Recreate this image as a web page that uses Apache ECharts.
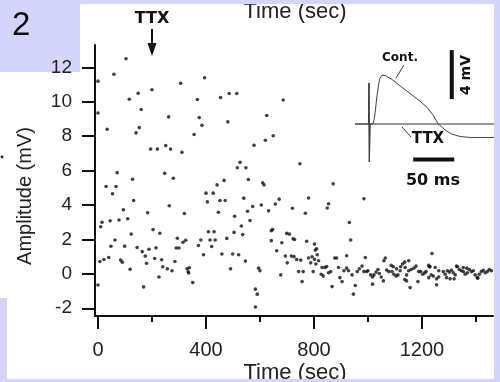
<!DOCTYPE html>
<html>
<head>
<meta charset="utf-8">
<script src="https://cdn.jsdelivr.net/npm/echarts@6/dist/echarts.min.js"></script>
<style>html,body{margin:0;padding:0;background:#d5d5fb;}#c{width:500px;height:382px;}</style>
</head>
<body>
<div id="c"></div>
<script>
// ---- data ----
const scatterTime = [
0,59,104,116,149,200,306,395,368,454,486,514,0,160,262,375,385,481,34,153,686,625,141,356,195,220,251,269,311,578,620,649,748,
71,30,67,54,128,247,279,132,94,264,184,320,15,10,45,78,110,123,204,229,63,48,99,145,164,175,189,215,180,210,236,240,257,274,226,169,285,290,300,294,315,325,7,22,40,84,90,119,330,334,338,336,351,372,381,391,409,430,415,434,421,400,427,405,452,471,446,477,459,491,499,521,504,536,531,506,554,441,467,540,516,526,548,557,546,563,0,
610,615,573,605,632,657,671,720,768,780,849,854,871,985,642,647,642,681,699,709,723,728,773,802,810,805,931,936,595,600,583,590,583,662,694,677,701,716,726,736,751,743,760,756,780,788,802,807,812,793,797,817,830,840,847,827,834,854,862,877,884,891,867,896,904,921,911,921,946,953,941,960,968,978,990,985,
1000,1010,1017,1022,1030,1037,1017,1042,1049,1059,1064,1069,1077,1057,1089,1096,1104,1111,1086,1121,1128,1136,1138,1151,1151,1160,1156,1170,1178,1136,1143,1188,1195,1203,1210,1215,1185,1227,1237,1225,1234,1242,1249,1254,1262,1225,1230,1254,1262,
1279,1286,1294,1301,1309,1316,1323,1331,1338,1346,1353,1360,1368,1375,1383,1390,1397,1405,1412,1420,1427,1434,1442,1449,1457,1328,1291,1304,1319,1407,1353,1366,928,995,1094,1106,1119,1143
];
const scatterAmp = [
11.2,11.6,12.5,10.15,10.5,10.7,11.07,11.4,10.13,10.25,10.48,10.48,9.35,9.55,9.12,9.08,8.63,8.83,8.4,8.5,10.1,9.2,8.19,8.1,7.25,7.25,7.45,7.25,7.06,7.47,7.76,8.03,6.4,
5.88,5.08,5.08,4.65,5.5,5.84,5.56,4.26,3.72,3.96,3.55,3.51,3.0,2.74,3.08,3.13,3.2,2.31,2.57,2.36,1.97,1.6,1.61,1.53,1.29,1.03,1.43,1.51,0.62,0.89,0.82,0.41,0.29,0.18,-0.18,-0.76,0.72,1.5,1.5,2.07,1.84,1.95,0.72,0.83,0.95,0.8,0.68,0.27,0.3,0.12,0.35,0.05,-0.51,1.65,1.97,1.11,2.45,2.45,1.97,1.97,1.59,4.69,4.69,4.18,4.26,4.26,3.58,2.06,1.15,0.29,1.15,1.11,2.41,2.28,2.78,3.35,3.64,5.17,5.43,4.4,6.17,6.48,6.17,5.48,0.74,3.1,-0.65,
5.29,5.17,3.91,4.0,3.66,4.06,4.34,3.81,3.52,4.41,3.83,4.07,5.23,4.36,2.51,2.58,1.93,1.81,2.35,2.31,2.04,2.0,1.89,1.73,1.46,1.38,2.98,1.97,0.33,0.18,-0.89,-1.18,-1.93,1.34,1.03,-0.06,0.64,1.03,1.0,0.83,0.8,0.13,0.13,-0.45,0.92,0.64,0.84,0.57,1.11,0.99,0.13,0.76,0.37,0.37,0.42,-0.02,-0.13,0.06,0.13,0.92,0.92,0.37,-0.74,-0.22,-0.45,1.05,0.18,0.33,-1.18,-0.68,-0.06,0.13,0.29,0.45,0.95,0.13,
0.18,-0.06,-0.18,-0.06,0.1,0.25,-0.6,0.02,-0.18,0.76,0.92,0.22,0.13,-0.41,0.13,-0.02,-0.13,-0.06,0.49,0.41,0.57,0.68,0.37,0.76,0.18,0.25,-0.8,0.33,0.45,-0.33,-0.41,0.13,0.13,-0.02,0.06,0.13,-0.45,0.41,1.18,-0.22,-0.06,-0.13,0.37,-0.64,0.18,0.49,0.41,-0.29,-0.18,
0.13,-0.02,0.18,0.1,0.21,0.06,-0.06,0.41,0.25,0.18,0.13,-0.02,0.06,0.25,0.13,0.18,-0.06,-0.22,-0.02,0.13,0.21,0.06,0.13,0.25,0.18,0.45,-0.22,-0.29,-0.29,-0.25,0.37,0.33,0.18,0.13,0.41,0.29,0.18,-0.06
];
const xMajorTicks = [0, 400, 800, 1200];
const xMinorTicks = [200, 600, 1000, 1400];
const yTicks = [-2, 0, 2, 4, 6, 8, 10, 12];

// inset traces (ms, mV relative to baseline)
const ttxTime = [0, 16.5, 17, 17.5, 18.2, 169.5];
const ttxV    = [0, 0, 3.35, -3.1, 0, 0];
const contTime = [0, 16.5, 17, 17.5, 18.2, 22, 24, 27, 30, 33, 37, 46, 55, 67, 79, 88, 95, 101, 110, 118, 128, 140, 169.5];
const contV    = [0, 0, 3.35, -3.1, 0, 0, 0.6, 2.4, 3.7, 3.98, 3.95, 3.6, 3.1, 2.5, 1.88, 1.35, 0.75, 0.05, -0.5, -0.82, -1.02, -1.1, -1.1];
const barMvTime = [118, 118];
const barMvV = [2.03, 6.03];
const barMsTime = [71, 121];
const barMsV = [-2.9, -2.9];

const LAV = '#d5d5fb';
const zip = (a, b) => a.map((v, i) => [v, b[i]]);

const chart = echarts.init(document.getElementById('c'), null, {renderer: 'canvas'});
const axisTextColor = '#222';
const plain = v => String(v);
const option = {
  backgroundColor: LAV,
  animation: false,
  grid: [
    {left: 95, top: 45, width: 398, height: 271},
    {left: 355, top: 38, width: 139, height: 134}
  ],
  xAxis: [
    {type: 'value', gridIndex: 0, position: 'bottom', min: -11, max: 1463,
     axisLine: {onZero: false, lineStyle: {color: '#111', width: 2}},
     axisTick: {customValues: xMajorTicks, length: 13, lineStyle: {color: '#111', width: 2}},
     axisLabel: {customValues: xMajorTicks, formatter: plain, margin: 24, fontSize: 20, fontFamily: 'Liberation Sans', color: axisTextColor},
     splitLine: {show: false}},
    {type: 'value', gridIndex: 0, position: 'bottom', min: -11, max: 1463,
     axisLine: {show: false, onZero: false},
     axisTick: {customValues: xMinorTicks, length: 6, lineStyle: {color: '#111', width: 2}},
     axisLabel: {show: false}, splitLine: {show: false}},
    {type: 'value', gridIndex: 1, min: 0, max: 169.5, show: false}
  ],
  yAxis: [
    {type: 'value', gridIndex: 0, position: 'left', min: -2.45, max: 13.3,
     axisLine: {show: true, onZero: false, lineStyle: {color: '#111', width: 2}},
     axisTick: {show: true, customValues: yTicks, length: 13, lineStyle: {color: '#111', width: 2}},
     axisLabel: {customValues: yTicks, formatter: plain, margin: 23, fontSize: 19, fontFamily: 'Liberation Sans', color: axisTextColor},
     splitLine: {show: false}},
    {type: 'value', gridIndex: 1, min: -3.92, max: 7.02, show: false}
  ],
  series: [
    {type: 'scatter', xAxisIndex: 0, yAxisIndex: 0, data: zip(scatterTime, scatterAmp),
     symbolSize: 3.6, itemStyle: {color: '#111'}, silent: true},
    {type: 'line', xAxisIndex: 2, yAxisIndex: 1, data: zip(ttxTime, ttxV), symbol: 'none',
     lineStyle: {color: '#333', width: 1.2}, silent: true},
    {type: 'line', xAxisIndex: 2, yAxisIndex: 1, data: zip(contTime, contV), symbol: 'none',
     lineStyle: {color: '#444', width: 1}, silent: true},
    {type: 'line', xAxisIndex: 2, yAxisIndex: 1, data: zip(barMvTime, barMvV), symbol: 'none',
     lineStyle: {color: '#111', width: 4}, silent: true},
    {type: 'line', xAxisIndex: 2, yAxisIndex: 1, data: zip(barMsTime, barMsV), symbol: 'none',
     lineStyle: {color: '#111', width: 4}, silent: true}
  ],
  graphic: [
    {type: 'rect', silent: true, z: -10, shape: {x: 7, y: 4, width: 487, height: 375}, style: {fill: '#fff'}},
    {type: 'rect', silent: true, z: -10, shape: {x: 0, y: 72, width: 8, height: 226}, style: {fill: '#fff'}},
    {type: 'rect', silent: true, z: -5, shape: {x: 0, y: 0, width: 80, height: 72}, style: {fill: LAV}},
    {type: 'text', silent: true, z: 50, x: 295, y: 12, style: {text: 'Time (sec)', fontSize: 22, fontFamily: 'Liberation Sans', fill: '#222', align: 'center', verticalAlign: 'middle'}},
    {type: 'text', silent: true, z: 50, x: 295, y: 373, style: {text: 'Time (sec)', fontSize: 22, fontFamily: 'Liberation Sans', fill: '#222', align: 'center', verticalAlign: 'middle'}},
    {type: 'rect', silent: true, z: 100, shape: {x: 0, y: 0, width: 500, height: 4}, style: {fill: LAV}},
    {type: 'rect', silent: true, z: 100, shape: {x: 0, y: 379, width: 500, height: 3}, style: {fill: LAV}},
    {type: 'rect', silent: true, z: 100, shape: {x: 494, y: 0, width: 6, height: 382}, style: {fill: LAV}},
    {type: 'text', silent: true, z: 101, x: 12, y: 26, style: {text: '2', fontSize: 33, fontFamily: 'Liberation Sans', fill: '#111', align: 'left', verticalAlign: 'middle'}},
    {type: 'text', silent: true, z: 50, x: 25, y: 196, rotation: Math.PI / 2, style: {text: 'Amplitude (mV)', fontSize: 20, fontFamily: 'Liberation Sans', fill: '#222', align: 'center', verticalAlign: 'middle'}},
    {type: 'circle', silent: true, z: 50, shape: {cx: 2, cy: 157, r: 1.4}, style: {fill: '#222'}},
    {type: 'text', silent: true, z: 50, x: 152, y: 19, style: {text: 'TTX', fontSize: 16, fontWeight: 'bold', fontFamily: 'DejaVu Sans', fill: '#111', align: 'center', verticalAlign: 'middle'}},
    {type: 'line', silent: true, z: 50, shape: {x1: 152, y1: 29, x2: 152, y2: 46}, style: {stroke: '#111', lineWidth: 2}},
    {type: 'polygon', silent: true, z: 50, shape: {points: [[147.5, 43], [156.5, 43], [152, 56]]}, style: {fill: '#111'}},
    {type: 'text', silent: true, z: 50, x: 400, y: 58, style: {text: 'Cont.', fontSize: 12, fontWeight: 'bold', fontFamily: 'DejaVu Sans', fill: '#111', align: 'center', verticalAlign: 'middle'}},
    {type: 'line', silent: true, z: 50, shape: {x1: 404, y1: 65, x2: 396, y2: 78}, style: {stroke: '#333', lineWidth: 1}},
    {type: 'text', silent: true, z: 50, x: 466, y: 75, rotation: Math.PI / 2, style: {text: '4 mV', fontSize: 14, fontWeight: 'bold', fontFamily: 'DejaVu Sans', fill: '#111', align: 'center', verticalAlign: 'middle'}},
    {type: 'text', silent: true, z: 50, x: 428, y: 139, style: {text: 'TTX', fontSize: 15, fontWeight: 'bold', fontFamily: 'DejaVu Sans', fill: '#111', align: 'center', verticalAlign: 'middle'}},
    {type: 'line', silent: true, z: 50, shape: {x1: 402, y1: 127, x2: 411, y2: 137}, style: {stroke: '#333', lineWidth: 1}},
    {type: 'text', silent: true, z: 50, x: 433, y: 181, style: {text: '50 ms', fontSize: 16, fontWeight: 'bold', fontFamily: 'DejaVu Sans', fill: '#111', align: 'center', verticalAlign: 'middle'}}
  ]
};
chart.setOption(option);
</script>
</body>
</html>
